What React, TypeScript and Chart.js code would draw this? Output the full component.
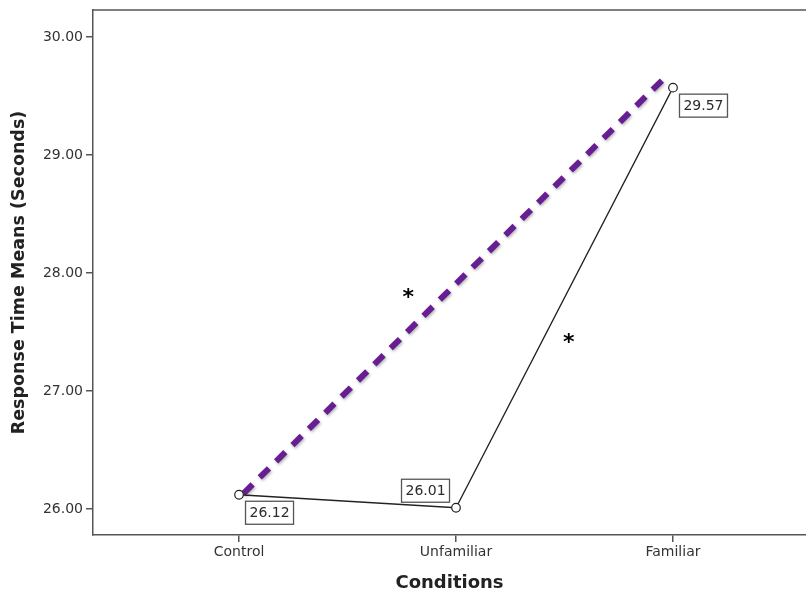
import React, { useEffect, useRef } from "react";
import { Chart, registerables } from "chart.js";

Chart.register(...registerables);

const categories = ["Control", "Unfamiliar", "Familiar"];
const meanValues = [26.12, 26.01, 29.57];
const meanLabels = ["26.12", "26.01", "29.57"];
// purple dashed comparison line (Control -> Familiar)
const compareX = [0.02, 1.96];
const compareY = [26.13, 29.65];
// significance asterisks
const starX = [0.78, 1.52];
const starY = [27.82, 27.44];
const yTicks = [26, 27, 28, 29, 30];

const FONT = "'DejaVu Sans', Verdana, sans-serif";

export default function App() {
  const ref = useRef<HTMLCanvasElement | null>(null);

  useEffect(() => {
    document.body.style.margin = "0";
    const canvas = ref.current;
    if (!canvas) return;

    const labelPlugin = {
      id: "annot",
      beforeDatasetDraw(chart: any, args: any) {
        if (args.index === 1) {
          const ctx = chart.ctx;
          ctx.save();
          ctx.shadowColor = "rgba(0,0,0,0.3)";
          ctx.shadowBlur = 3;
          ctx.shadowOffsetX = 1;
          ctx.shadowOffsetY = 1.5;
        }
      },
      afterDatasetDraw(chart: any, args: any) {
        if (args.index === 1) chart.ctx.restore();
      },
      afterDraw(chart: any) {
        const ctx = chart.ctx;
        const xs = chart.scales.x;
        const ys = chart.scales.y;
        const area = chart.chartArea;
        ctx.save();
        // top frame line
        ctx.strokeStyle = "#555";
        ctx.lineWidth = 1.5;
        ctx.beginPath();
        ctx.moveTo(area.left, area.top);
        ctx.lineTo(area.right, area.top);
        ctx.stroke();
        // value boxes
        ctx.font = `14px ${FONT}`;
        ctx.textBaseline = "middle";
        ctx.textAlign = "center";
        const dirs = [
          [1, 1],
          [-1, -1],
          [1, 1],
        ];
        meanValues.forEach((v, i) => {
          const px = xs.getPixelForValue(i);
          const py = ys.getPixelForValue(v);
          const w = 48;
          const h = 23;
          const [dx, dy] = dirs[i];
          const bx = dx > 0 ? px + 6 : px - 7 - w;
          const by = dy > 0 ? py + 6 : py - 6 - h;
          ctx.fillStyle = "#fff";
          ctx.fillRect(bx, by, w, h);
          ctx.strokeStyle = "#555";
          ctx.lineWidth = 1.3;
          ctx.strokeRect(bx + 0.5, by + 0.5, w, h);
          ctx.fillStyle = "#2a2a2a";
          ctx.fillText(meanLabels[i], bx + w / 2 + 0.5, by + h / 2 + 1);
        });
        // asterisks
        ctx.fillStyle = "#000";
        ctx.font = `bold 22px ${FONT}`;
        starX.forEach((sx, i) => {
          ctx.fillText("*", xs.getPixelForValue(sx), ys.getPixelForValue(starY[i]) + 4);
        });
        ctx.restore();
      },
    };

    const chart = new Chart(canvas, {
      type: "line",
      data: {
        datasets: [
          {
            label: "Means",
            data: meanValues.map((v, i) => ({ x: i, y: v })),
            borderColor: "#222",
            borderWidth: 1.3,
            pointRadius: 4.3,
            pointBorderWidth: 1.2,
            pointBorderColor: "#222",
            pointBackgroundColor: "#fff",
            tension: 0,
          },
          {
            label: "Comparison",
            data: compareX.map((x, i) => ({ x, y: compareY[i] })),
            borderColor: "#671e92",
            borderWidth: 6,
            borderDash: [13, 10],
            borderCapStyle: "butt",
            pointRadius: 0,
            tension: 0,
          },
        ],
      },
      options: {
        responsive: false,
        animation: false,
        layout: { autoPadding: false, padding: { top: 10, left: 0, right: 0, bottom: 0 } },
        plugins: { legend: { display: false }, tooltip: { enabled: false } },
        scales: {
          x: {
            type: "linear",
            min: -0.673,
            max: 2.613,
            afterBuildTicks(scale: any) {
              scale.ticks = categories.map((_, i) => ({ value: i }));
            },
            afterFit(scale: any) {
              scale.height = 59;
              scale.paddingLeft = 0;
              scale.paddingRight = 0;
            },
            ticks: {
              color: "#333",
              font: { family: FONT, size: 14 },
              padding: 2,
              maxRotation: 0,
              autoSkip: false,
              callback: (v: any) => categories[v as number] ?? "",
            },
            grid: {
              display: true,
              drawOnChartArea: false,
              drawTicks: true,
              tickLength: 7,
              color: "#555",
              lineWidth: 1.5,
            },
            border: { display: true, color: "#555", width: 1.5 },
            title: {
              display: true,
              text: "Conditions",
              color: "#222",
              font: { family: FONT, size: 18, weight: "bold" },
              padding: { top: 0, bottom: 0 },
            },
          },
          y: {
            type: "linear",
            min: 25.779,
            max: 30.228,
            afterBuildTicks(scale: any) {
              scale.ticks = yTicks.map((v) => ({ value: v }));
            },
            afterFit(scale: any) {
              scale.width = 93;
              scale.paddingTop = 0;
              scale.paddingBottom = 0;
            },
            ticks: {
              color: "#333",
              font: { family: FONT, size: 14 },
              padding: 3,
              callback: (v: any) => Number(v).toFixed(2),
            },
            grid: {
              display: true,
              drawOnChartArea: false,
              drawTicks: true,
              tickLength: 7,
              color: "#555",
              lineWidth: 1.5,
            },
            border: { display: true, color: "#555", width: 1.5 },
            title: {
              display: true,
              text: "Response Time Means (Seconds)",
              color: "#222",
              font: { family: FONT, size: 17.5, weight: "bold" },
              padding: { top: 9, bottom: 0 },
            },
          },
        },
      },
      plugins: [labelPlugin],
    } as any);

    return () => chart.destroy();
  }, []);

  return (
    <div style={{ position: "absolute", left: 0, top: 0, width: 806, height: 594 }}>
      <canvas ref={ref} width={806} height={594} style={{ width: 806, height: 594 }} />
    </div>
  );
}
